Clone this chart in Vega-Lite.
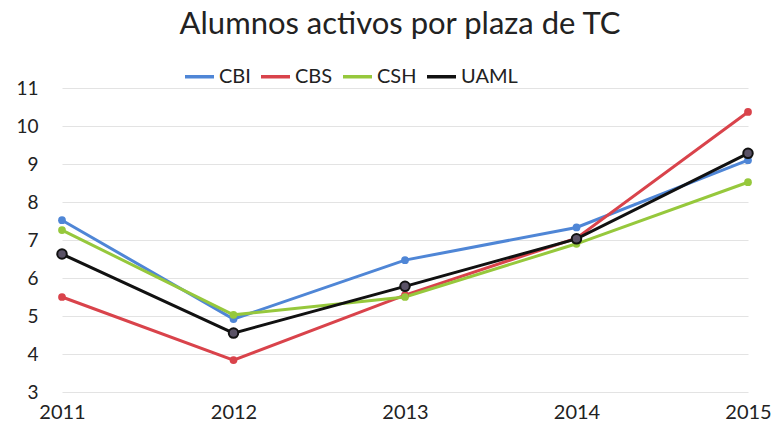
{
  "$schema": "https://vega.github.io/schema/vega-lite/v6.json",
  "autosize": "none",
  "width": 686,
  "height": 304,
  "padding": {"left": 62, "top": 88, "right": 32, "bottom": 52},
  "background": "white",
  "title": {
    "text": "Alumnos activos por plaza de TC",
    "font": "Lato",
    "fontSize": 31,
    "fontWeight": "normal",
    "color": "#222222",
    "anchor": "middle",
    "frame": "group",
    "offset": 19,
    "dx": -5
  },
  "config": {
    "view": {"stroke": null},
    "font": "Lato"
  },
  "data": {
    "values": [
      {"year": 2011, "series": "CBI", "value": 7.52},
      {"year": 2012, "series": "CBI", "value": 4.92},
      {"year": 2013, "series": "CBI", "value": 6.47},
      {"year": 2014, "series": "CBI", "value": 7.33},
      {"year": 2015, "series": "CBI", "value": 9.1},
      {"year": 2011, "series": "CBS", "value": 5.5},
      {"year": 2012, "series": "CBS", "value": 3.84},
      {"year": 2013, "series": "CBS", "value": 5.55},
      {"year": 2014, "series": "CBS", "value": 7.05},
      {"year": 2015, "series": "CBS", "value": 10.37},
      {"year": 2011, "series": "CSH", "value": 7.26},
      {"year": 2012, "series": "CSH", "value": 5.03},
      {"year": 2013, "series": "CSH", "value": 5.5},
      {"year": 2014, "series": "CSH", "value": 6.9},
      {"year": 2015, "series": "CSH", "value": 8.52},
      {"year": 2011, "series": "UAML", "value": 6.63},
      {"year": 2012, "series": "UAML", "value": 4.55},
      {"year": 2013, "series": "UAML", "value": 5.78},
      {"year": 2014, "series": "UAML", "value": 7.03},
      {"year": 2015, "series": "UAML", "value": 9.28}
    ]
  },
  "encoding": {
    "x": {
      "field": "year",
      "type": "quantitative",
      "scale": {"domain": [2011, 2015], "nice": false, "zero": false},
      "axis": {
        "title": null,
        "values": [2011, 2012, 2013, 2014, 2015],
        "format": "d",
        "grid": false,
        "domain": false,
        "ticks": false,
        "labelFont": "Lato",
        "labelFontSize": 20,
        "labelColor": "#222222",
        "labelPadding": 10,
        "labelFlush": false
      }
    },
    "y": {
      "field": "value",
      "type": "quantitative",
      "scale": {"domain": [3, 11], "nice": false, "zero": false},
      "axis": {
        "title": null,
        "values": [3, 4, 5, 6, 7, 8, 9, 10, 11],
        "grid": true,
        "gridColor": "#e3e3e3",
        "gridWidth": 1,
        "domain": false,
        "ticks": false,
        "labelFont": "Lato",
        "labelFontSize": 19,
        "labelColor": "#222222",
        "labelPadding": 24
      }
    },
    "color": {
      "field": "series",
      "type": "nominal",
      "scale": {
        "domain": ["CBI", "CBS", "CSH", "UAML"],
        "range": ["#4f86d6", "#d9434b", "#96c83c", "#111111"]
      },
      "legend": {
        "orient": "none",
        "legendX": 121,
        "legendY": -28,
        "direction": "horizontal",
        "title": null,
        "symbolType": "stroke",
        "symbolStrokeWidth": 3.5,
        "symbolSize": 841,
        "labelFont": "Lato",
        "labelFontSize": 20,
        "labelColor": "#222222",
        "columnPadding": 3,
        "labelOffset": 3
      }
    }
  },
  "layer": [
    {
      "mark": {"type": "line", "strokeWidth": 3}
    },
    {
      "mark": {"type": "point", "filled": true, "size": 60, "opacity": 1},
      "transform": [{"filter": "datum.series != 'UAML'"}]
    },
    {
      "mark": {"type": "point", "filled": true, "size": 90, "opacity": 1, "stroke": "#111111", "strokeWidth": 2, "fill": "#5a5266"},
      "transform": [{"filter": "datum.series == 'UAML'"}]
    }
  ]
}
